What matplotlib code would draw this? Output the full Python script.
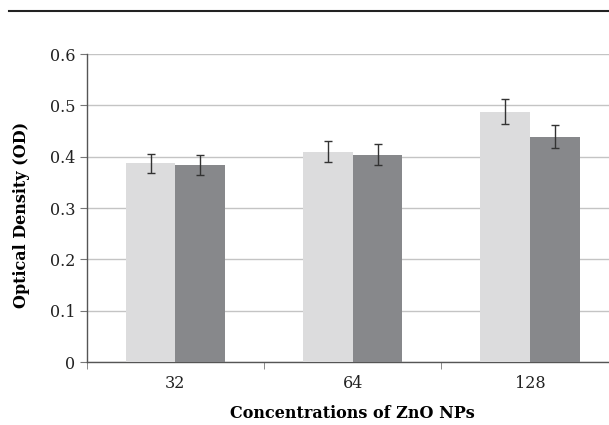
import numpy as np
import matplotlib
matplotlib.use("Agg")
import matplotlib.pyplot as plt
from matplotlib.lines import Line2D

# data
concentrations = ["32", "64", "128"]
light_vals = [0.387, 0.410, 0.488]
light_err = [0.019, 0.020, 0.024]
dark_vals = [0.384, 0.404, 0.439]
dark_err = [0.019, 0.020, 0.022]

plt.rcParams['font.family'] = ['DejaVu Serif']

fig = plt.figure(figsize=(6.09, 4.25), dpi=100)
ax = fig.add_axes([0.1424, 0.148, 0.8736, 0.7247])

x = np.arange(len(concentrations))
w = 0.28
ekw = dict(ecolor='#333333', elinewidth=1, capsize=3, capthick=1)
ax.bar(x - w / 2, light_vals, w, color='#dcdcdd', yerr=light_err, error_kw=ekw, zorder=3)
ax.bar(x + w / 2, dark_vals, w, color='#87888b', yerr=dark_err, error_kw=ekw, zorder=3)

ax.set_xlim(-0.5, len(concentrations) - 0.5)
ax.set_ylim(0, 0.6)
ax.set_yticks(np.arange(0, 0.61, 0.1))
ax.set_yticklabels(["0", "0.1", "0.2", "0.3", "0.4", "0.5", "0.6"])
ax.yaxis.grid(True, color='#c4c4c4', linewidth=1)
ax.set_axisbelow(True)

ax.set_xticks(x)
ax.set_xticklabels(concentrations)
ax.set_xticks(np.arange(-0.5, len(concentrations)), minor=True)
ax.tick_params(axis='x', which='major', length=0, pad=9, labelsize=11.5, colors='#222222')
ax.tick_params(axis='x', which='minor', length=5, color='#777777', direction='out')
ax.tick_params(axis='y', length=5, color='#777777', labelsize=11.5, labelcolor='#222222', pad=3)

for s in ['top', 'right']:
    ax.spines[s].set_visible(False)
for s in ['left', 'bottom']:
    ax.spines[s].set_color('#555555')
    ax.spines[s].set_linewidth(1)

ax.set_ylabel("Optical Density (OD)", fontsize=11.5, fontweight='bold')
ax.yaxis.set_label_coords(-0.107, 0.477)
ax.set_xlabel("Concentrations of ZnO NPs", fontsize=11.5, fontweight='bold', labelpad=10)

fig.add_artist(Line2D([9 / 609, 1], [1 - 11 / 425, 1 - 11 / 425], color='#222222', linewidth=1.5))

fig.savefig("out.png", dpi=100)
